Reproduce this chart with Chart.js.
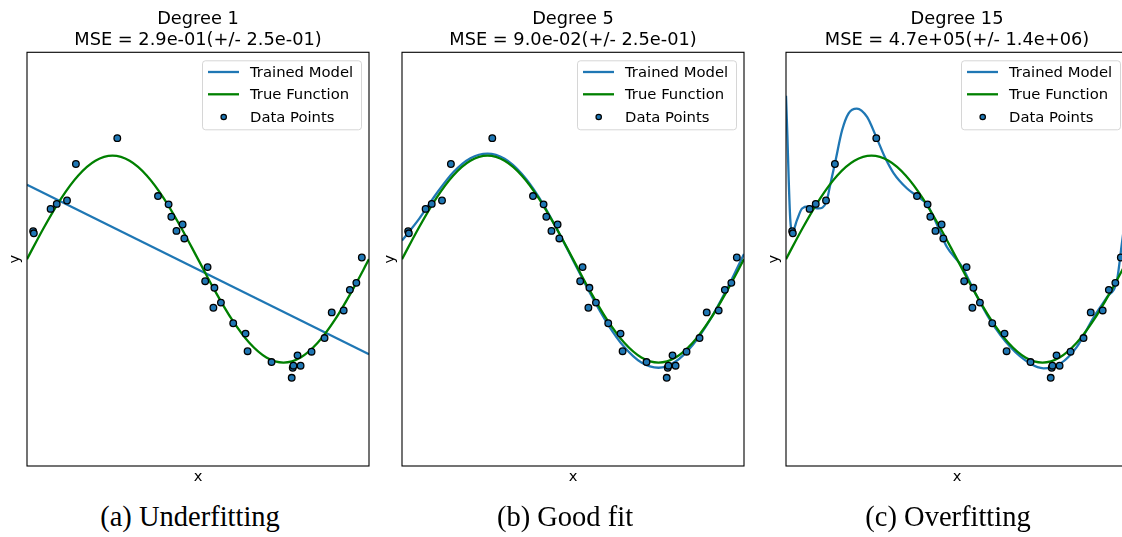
<!DOCTYPE html>
<html>
<head>
<meta charset="utf-8">
<script src="https://cdn.jsdelivr.net/npm/chart.js@4.4.0/dist/chart.umd.min.js"></script>
<style>
  html, body { margin: 0; padding: 0; background: #fff; overflow: hidden; }
  #page { position: relative; width: 1122px; height: 537px; overflow: hidden; }
  canvas { position: absolute; top: 0; }
  .cap { position: absolute; top: 503px; width: 380px; text-align: center;
         font-family: "Liberation Serif", "Times New Roman", serif; font-size: 28.5px; line-height: 1; color: #000; }
</style>
</head>
<body>
<div id="page">
  <canvas id="c0" width="380" height="495" style="left:0px"></canvas>
  <canvas id="c1" width="380" height="495" style="left:375px"></canvas>
  <canvas id="c2" width="380" height="495" style="left:759px"></canvas>
  <div class="cap" style="left:0px">(a) Underfitting</div>
  <div class="cap" style="left:375px">(b) Good fit</div>
  <div class="cap" style="left:758px">(c) Overfitting</div>
</div>
<script>
// samples (same in every panel)
const pointX = [0.018, 0.020, 0.069, 0.087, 0.117, 0.143, 0.264, 0.383, 0.414, 0.422, 0.437, 0.455, 0.460,
    0.521, 0.528, 0.545, 0.548, 0.567, 0.603, 0.639, 0.645, 0.715, 0.774, 0.777, 0.779, 0.791, 0.800,
    0.832, 0.870, 0.891, 0.926, 0.944, 0.963, 0.979];
const pointY = [0.27, 0.25, 0.486, 0.534, 0.567, 0.92, 1.17, 0.61, 0.53, 0.41, 0.273, 0.335, 0.20,
    -0.213, -0.077, -0.47, -0.277, -0.42, -0.62, -0.72, -0.89, -0.995, -1.147, -1.05, -1.03, -0.93, -1.03,
    -0.895, -0.763, -0.515, -0.496, -0.297, -0.229, 0.016];

// true function
const trueX = [0, 0.05, 0.1, 0.15, 0.2, 0.25, 0.3, 0.35, 0.4, 0.45, 0.5, 0.55, 0.6, 0.65, 0.7, 0.75, 0.8, 0.85, 0.9, 0.95, 1];
const trueY = [0, 0.309, 0.588, 0.809, 0.951, 1, 0.951, 0.809, 0.588, 0.309, 0, -0.309, -0.588, -0.809, -0.951, -1, -0.951, -0.809, -0.588, -0.309, 0];

// trained models
const deg1X = [0, 1];
const deg1Y = [0.72, -0.92];

const deg5X = [0, 0.05, 0.1, 0.15, 0.2, 0.25, 0.3, 0.35, 0.4, 0.45, 0.5, 0.55, 0.6, 0.65, 0.7, 0.75, 0.8, 0.85, 0.9, 0.95, 1];
const deg5Y = [0.18, 0.39, 0.63, 0.84, 0.976, 1.02, 0.97, 0.825, 0.6, 0.31, -0.01, -0.33, -0.62, -0.85, -1.0, -1.05, -0.99, -0.83, -0.59, -0.29, 0.05];

const deg15X = [0, 0.004, 0.008, 0.0126, 0.019, 0.032, 0.047, 0.066, 0.08, 0.095, 0.118, 0.13, 0.144, 0.164, 0.183, 0.207,
    0.237, 0.264, 0.29, 0.315, 0.354, 0.383, 0.412, 0.44, 0.47, 0.515, 0.549, 0.597, 0.656, 0.714, 0.753, 0.802,
    0.85, 0.9, 0.939, 0.968, 0.982, 1.0];
const deg15Y = [1.58, 1.2, 0.76, 0.377, 0.264, 0.377, 0.49, 0.51, 0.5, 0.49, 0.554, 0.73, 0.94, 1.246, 1.41, 1.456,
    1.375, 1.18, 0.98, 0.83, 0.683, 0.61, 0.53, 0.345, 0.12, -0.074, -0.30, -0.59, -0.85, -1.01, -1.056, -1.01,
    -0.85, -0.56, -0.365, -0.2, 0.15, 0.6];

const degreeTitles = ['Degree 1', 'Degree 5', 'Degree 15'];
const mseTitles = ['MSE = 2.9e-01(+/- 2.5e-01)', 'MSE = 9.0e-02(+/- 2.5e-01)', 'MSE = 4.7e+05(+/- 1.4e+06)'];
const legendLabels = ['Trained Model', 'True Function', 'Data Points'];

const BLUE = '#1f77b4';
const GREEN = '#008000';
const FONT = 'DejaVu Sans';

function toPoints(xs, ys) {
    return xs.map((x, i) => ({ x: x, y: ys[i] }));
}

// box round the axes + legend inside the top right corner
const frameAndLegend = {
    id: 'frameAndLegend',
    afterDraw(chart) {
        const ctx = chart.ctx;
        const a = chart.chartArea;
        ctx.save();
        ctx.strokeStyle = '#000';
        ctx.lineWidth = 1.1;
        ctx.strokeRect(a.left, a.top, a.right - a.left, a.bottom - a.top);

        const w = 159, h = 69;
        const bx = a.right - 8 - w, by = a.top + 8;
        ctx.beginPath();
        ctx.roundRect(bx + 0.5, by + 0.5, w, h, 3);
        ctx.fillStyle = 'rgba(255,255,255,0.8)';
        ctx.fill();
        ctx.strokeStyle = 'rgba(204,204,204,0.8)';
        ctx.lineWidth = 1;
        ctx.stroke();

        const rows = [11.7, 34, 56.7];
        ctx.lineWidth = 2.3;
        [BLUE, GREEN].forEach((c, i) => {
            ctx.strokeStyle = c;
            ctx.beginPath();
            ctx.moveTo(bx + 6, by + rows[i]);
            ctx.lineTo(bx + 37, by + rows[i]);
            ctx.stroke();
        });
        ctx.beginPath();
        ctx.arc(bx + 21.7, by + rows[2], 2.7, 0, Math.PI * 2);
        ctx.fillStyle = BLUE;
        ctx.fill();
        ctx.strokeStyle = '#000';
        ctx.lineWidth = 1.2;
        ctx.stroke();

        ctx.fillStyle = '#000';
        ctx.font = '14.8px "' + FONT + '"';
        ctx.textBaseline = 'middle';
        ctx.textAlign = 'left';
        legendLabels.forEach((t, i) => ctx.fillText(t, bx + 48, by + rows[i] + 1));
        ctx.restore();
    }
};

function makePanel(idx, modelX, modelY) {
    const ctx = document.getElementById('c' + idx).getContext('2d');
    return new Chart(ctx, {
        type: 'scatter',
        data: {
            datasets: [
                {
                    label: 'Data Points',
                    data: toPoints(pointX, pointY),
                    backgroundColor: BLUE,
                    borderColor: '#000',
                    borderWidth: 1.3,
                    pointRadius: 3.3,
                    showLine: false
                },
                {
                    label: 'True Function',
                    data: toPoints(trueX, trueY),
                    borderColor: GREEN,
                    borderWidth: 2.3,
                    pointRadius: 0,
                    showLine: true,
                    cubicInterpolationMode: 'monotone'
                },
                {
                    label: 'Trained Model',
                    data: toPoints(modelX, modelY),
                    borderColor: BLUE,
                    borderWidth: 2.3,
                    pointRadius: 0,
                    showLine: true,
                    cubicInterpolationMode: 'monotone'
                }
            ]
        },
        options: {
            responsive: false,
            animation: false,
            events: [],
            layout: { padding: { left: 0, right: 11, top: 0, bottom: 0 } },
            plugins: {
                legend: { display: false },
                tooltip: { enabled: false },
                title: {
                    display: true,
                    fullSize: false,
                    text: [degreeTitles[idx], mseTitles[idx]],
                    color: '#000',
                    font: { family: FONT, size: 17.8, weight: 'normal', lineHeight: 1.16 },
                    padding: { top: 9.5, bottom: 1.5 }
                }
            },
            scales: {
                x: {
                    type: 'linear', min: 0, max: 1,
                    grid: { display: false },
                    border: { display: false },
                    ticks: { display: false },
                    title: { display: true, text: 'x', color: '#000',
                             font: { family: FONT, size: 14.7, lineHeight: 1.2 }, padding: { top: 0, bottom: 9 } },
                    afterFit(scale) { scale.height = 29; }
                },
                y: {
                    type: 'linear', min: -2, max: 2,
                    grid: { display: false },
                    border: { display: false },
                    ticks: { display: false },
                    title: { display: true, text: 'y', color: '#000',
                             font: { family: FONT, size: 14.7, lineHeight: 1.2 }, padding: { top: 6, bottom: 0 } },
                    afterFit(scale) { scale.width = 27; }
                }
            }
        },
        plugins: [frameAndLegend]
    });
}

makePanel(0, deg1X, deg1Y);
makePanel(1, deg5X, deg5Y);
makePanel(2, deg15X, deg15Y);
</script>
</body>
</html>
